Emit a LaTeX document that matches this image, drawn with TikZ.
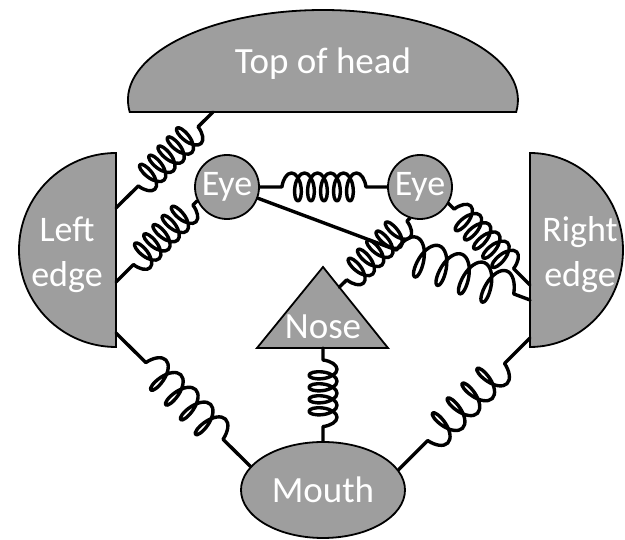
\documentclass[tikz,border=0pt]{standalone}
\usepackage{fontspec}
\setmainfont{Carlito}
\usepackage{xcolor}
\definecolor{FaceGray}{RGB}{158,158,158}
\usepackage{tikz}
\usetikzlibrary{shapes.geometric,decorations.pathmorphing,calc}

\tikzset{
  part/.style={fill=FaceGray,draw=black,line width=1.8pt},
  lbl/.style={text=white,align=center,font=\fontsize{36}{45}\selectfont},
  biglbl/.style={text=white,font=\fontsize{37}{44}\selectfont},
  spring/.style n args={4}{line width=3.4pt,line cap=round,line join=round,decorate,
    decoration={coil,aspect=0.45,amplitude=#1,segment length=#2,pre length=#3,post length=#4}}
}

\begin{document}
\begin{tikzpicture}[x=1pt,y=1pt]
  \useasboundingbox (0,0) rectangle (625,540);
  % head, edges, nose
  \draw[part] (129.7,428) coordinate (headL)
    arc[start angle=187.66,end angle=-7.66,x radius=195,y radius=90] -- cycle;
  \node[biglbl] (head) at (323,476) {Top of head};
  \coordinate (headS) at (213,428);

  \draw[part] (116,387) arc[start angle=90,end angle=270,radius=97] -- cycle;
  \node[lbl] (ledge) at (67,285) {Left\\edge};
  \coordinate (le1) at (116,332);
  \coordinate (le2) at (116,258);
  \coordinate (le3) at (116,207);

  \draw[part] (530,387) arc[start angle=90,end angle=-90,x radius=93,y radius=97] -- cycle;
  \node[lbl] (redge) at (580,285) {Right\\edge};
  \coordinate (re1) at (530,240);
  \coordinate (re2) at (530,255);
  \coordinate (re3) at (530,202);

  \draw[part] (257,192) coordinate (nosebl) -- (323,273) coordinate (nosetip)
    -- (388,192) coordinate (nosebr) -- cycle;
  \node[biglbl] (nose) at (323,213) {Nose};
  \coordinate (nosebase) at (323,192);
  \coordinate (noseside) at ($(nosetip)!0.25!(nosebr)$);

  \node[part,circle,minimum size=64pt,inner sep=0pt,lbl] (leye) at (227,353) {Eye};
  \node[part,circle,minimum size=64pt,inner sep=0pt,lbl] (reye) at (420,353) {Eye};
  \node[part,ellipse,minimum width=164pt,minimum height=96pt,inner sep=0pt,biglbl] (mouth) at (323,50) {Mouth};

  % springs
  \draw[spring={14}{13}{21}{25}] (headS) -- (le1);
  \draw[spring={14}{13}{6}{18}] (leye.205) -- (le2);
  \draw[spring={14}{13}{22}{21}] (leye.east) -- (reye.west);
  \draw[spring={19}{24}{148}{8}] (leye.-20) -- (re1);
  \draw[spring={14}{13}{4}{8}] (reye.252) -- (noseside);
  \draw[spring={14}{13}{8}{10}] (reye.-30) -- (re2);
  \draw[spring={14}{12}{12}{14}] (nosebase) -- (mouth.north);
  \draw[spring={16}{21}{42}{28}] (le3) -- (mouth.162);
  \draw[spring={16}{21}{36}{32}] (re3) -- (mouth.15);
\end{tikzpicture}
\end{document}
